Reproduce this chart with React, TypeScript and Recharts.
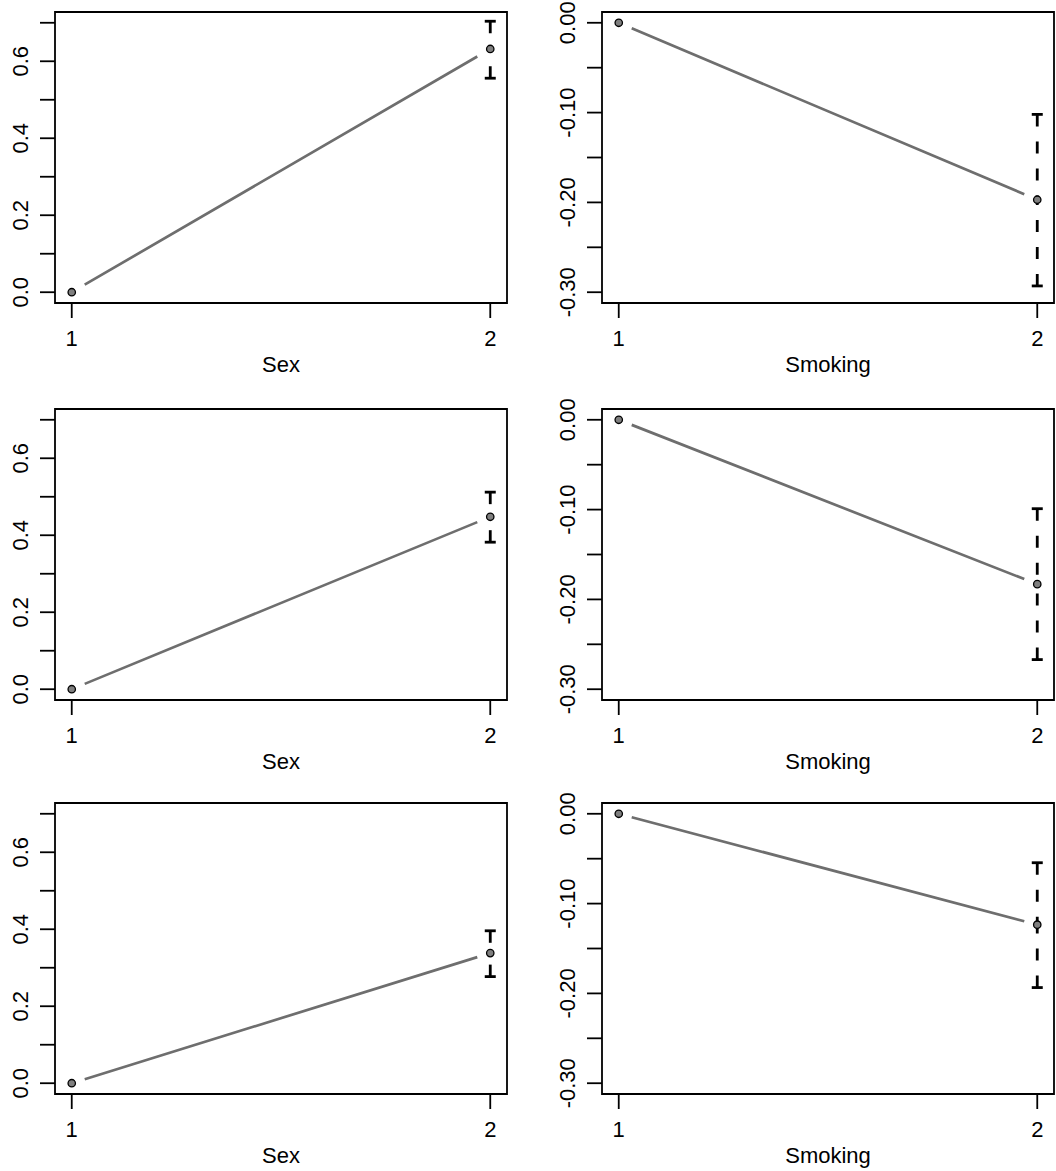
import React from "react";
import {
  ComposedChart,
  Line,
  ReferenceArea,
  ReferenceDot,
  ReferenceLine,
  XAxis,
  YAxis,
} from "recharts";

// factor levels on the x axis
const LEVELS = [1, 2];
const X_TICKS = [1, 2];
const REF_EFFECT = 0; // level 1 is the reference, effect fixed at 0

// Sex panels (rows 1..3): estimate for level 2 and its interval
const SEX_EST = [0.632, 0.448, 0.338];
const SEX_LOWER = [0.556, 0.382, 0.277];
const SEX_UPPER = [0.704, 0.512, 0.396];

// Smoking panels (rows 1..3)
const SMOKE_EST = [-0.197, -0.183, -0.1235];
const SMOKE_LOWER = [-0.293, -0.267, -0.1935];
const SMOKE_UPPER = [-0.102, -0.099, -0.0545];

const SEX_Y_TICKS = [0, 0.1, 0.2, 0.3, 0.4, 0.5, 0.6, 0.7];
const SEX_Y_LABELS = ["0.0", "", "0.2", "", "0.4", "", "0.6", ""];
const SMOKE_Y_TICKS = [-0.3, -0.25, -0.2, -0.15, -0.1, -0.05, 0];
const SMOKE_Y_LABELS = ["-0.30", "", "-0.20", "", "-0.10", "", "0.00"];

const X_DOMAIN: [number, number] = [0.96, 2.04];
const SEX_Y_DOMAIN: [number, number] = [-0.028, 0.728];
const SMOKE_Y_DOMAIN: [number, number] = [-0.312, 0.012];

const FONT = "'Liberation Sans', Arial, Helvetica, sans-serif";
const FONT_SIZE = 22;

// layout
const Y_AXIS_W = 54;
const X_AXIS_H = 75;
const TOP_M = 10;
const RIGHT_M = 2;
const PLOT_W = 452;
const PLOT_H = 291;
const CHART_W = Y_AXIS_W + PLOT_W + RIGHT_M;
const CHART_H = TOP_M + PLOT_H + X_AXIS_H;
const COL_LEFT = [0.5, 548];
const ROW_TOP = [1.5, 398.5, 792.5];

const LINE_COLOR = "#6e6e6e";
const DOT_FILL = "#7f7f7f";

type PanelProps = {
  left: number;
  top: number;
  est: number;
  lower: number;
  upper: number;
  yTicks: number[];
  yLabels: string[];
  yDomain: [number, number];
  xLabel: string;
};

function YTick(props: any) {
  const { x, y, payload, ticks, labels } = props;
  const i = ticks.findIndex((t: number) => Math.abs(t - payload.value) < 1e-9);
  const label = i >= 0 ? labels[i] : "";
  if (!label) return <g />;
  const cx = x - 20;
  return (
    <text
      x={cx}
      y={y}
      dy="0.36em"
      textAnchor="middle"
      transform={`rotate(-90, ${cx}, ${y})`}
      fill="#000"
      fontSize={FONT_SIZE}
      fontFamily={FONT}
    >
      {label}
    </text>
  );
}

function XTick(props: any) {
  const { x, y, payload } = props;
  return (
    <text
      x={x}
      y={y + 20}
      dy="0.36em"
      textAnchor="middle"
      fill="#000"
      fontSize={FONT_SIZE}
      fontFamily={FONT}
    >
      {payload.value}
    </text>
  );
}

function Cap(props: any) {
  const { cx, cy } = props;
  return (
    <line x1={cx - 5.5} x2={cx + 5.5} y1={cy} y2={cy} stroke="#000" strokeWidth={2.8} />
  );
}

function Dot(props: any) {
  const { cx, cy } = props;
  if (cx == null || cy == null) return <g />;
  return <circle cx={cx} cy={cy} r={3.7} fill={DOT_FILL} stroke="#000" strokeWidth={1.3} />;
}

function Panel({ left, top, est, lower, upper, yTicks, yLabels, yDomain, xLabel }: PanelProps) {
  const data = [
    { x: LEVELS[0], v: REF_EFFECT },
    { x: LEVELS[1], v: est },
  ];
  return (
    <div style={{ position: "absolute", left, top }}>
      <ComposedChart
        width={CHART_W}
        height={CHART_H}
        data={data}
        margin={{ top: TOP_M, right: RIGHT_M, left: 0, bottom: 0 }}
      >
        <XAxis
          dataKey="x"
          type="number"
          domain={X_DOMAIN}
          ticks={X_TICKS}
          allowDataOverflow
          height={X_AXIS_H}
          axisLine={false}
          tickLine={{ stroke: "#000", strokeWidth: 1.8 }}
          tickSize={15}
          tickMargin={0}
          tick={<XTick />}
          interval={0}
          label={{
            value: xLabel,
            position: "insideBottom",
            offset: 6,
            fill: "#000",
            fontSize: FONT_SIZE,
            fontFamily: FONT,
          }}
        />
        <YAxis
          type="number"
          domain={yDomain}
          ticks={yTicks}
          allowDataOverflow
          width={Y_AXIS_W}
          axisLine={false}
          tickLine={{ stroke: "#000", strokeWidth: 1.8 }}
          tickSize={15}
          tickMargin={0}
          interval={0}
          tick={<YTick ticks={yTicks} labels={yLabels} />}
        />
        <ReferenceArea
          x1={X_DOMAIN[0]}
          x2={X_DOMAIN[1]}
          y1={yDomain[0]}
          y2={yDomain[1]}
          fill="none"
          fillOpacity={0}
          stroke="#000"
          strokeWidth={1.8}
          ifOverflow="visible"
        />
        {/* interval drawn as two dashed arrows from the bounds toward the estimate */}
        <ReferenceLine
          segment={[
            { x: LEVELS[1], y: upper },
            { x: LEVELS[1], y: est },
          ]}
          stroke="#000"
          strokeWidth={2.8}
          strokeDasharray="12 15"
          ifOverflow="visible"
        />
        <ReferenceLine
          segment={[
            { x: LEVELS[1], y: lower },
            { x: LEVELS[1], y: est },
          ]}
          stroke="#000"
          strokeWidth={2.8}
          strokeDasharray="12 15"
          ifOverflow="visible"
        />
        <ReferenceDot x={LEVELS[1]} y={upper} shape={<Cap />} ifOverflow="visible" />
        <ReferenceDot x={LEVELS[1]} y={lower} shape={<Cap />} ifOverflow="visible" />
        {/* type="b" style line: gap left around each point */}
        <Line
          dataKey="v"
          type="linear"
          stroke={LINE_COLOR}
          strokeWidth={2.7}
          pathLength={1000}
          strokeDasharray="0 31 938 1000"
          dot={false}
          activeDot={false}
          isAnimationActive={false}
        />
        <Line
          dataKey="v"
          type="linear"
          stroke="none"
          dot={<Dot />}
          activeDot={false}
          isAnimationActive={false}
        />
      </ComposedChart>
    </div>
  );
}

export default function App() {
  const rows = [0, 1, 2];
  return (
    <div
      style={{
        position: "absolute",
        left: 0,
        top: 0,
        width: 1056,
        height: 1171,
        background: "#fff",
        fontFamily: FONT,
      }}
    >
      {rows.map((r) => (
        <React.Fragment key={r}>
          <Panel
            left={COL_LEFT[0]}
            top={ROW_TOP[r]}
            est={SEX_EST[r]}
            lower={SEX_LOWER[r]}
            upper={SEX_UPPER[r]}
            yTicks={SEX_Y_TICKS}
            yLabels={SEX_Y_LABELS}
            yDomain={SEX_Y_DOMAIN}
            xLabel="Sex"
          />
          <Panel
            left={COL_LEFT[1]}
            top={ROW_TOP[r]}
            est={SMOKE_EST[r]}
            lower={SMOKE_LOWER[r]}
            upper={SMOKE_UPPER[r]}
            yTicks={SMOKE_Y_TICKS}
            yLabels={SMOKE_Y_LABELS}
            yDomain={SMOKE_Y_DOMAIN}
            xLabel="Smoking"
          />
        </React.Fragment>
      ))}
    </div>
  );
}
